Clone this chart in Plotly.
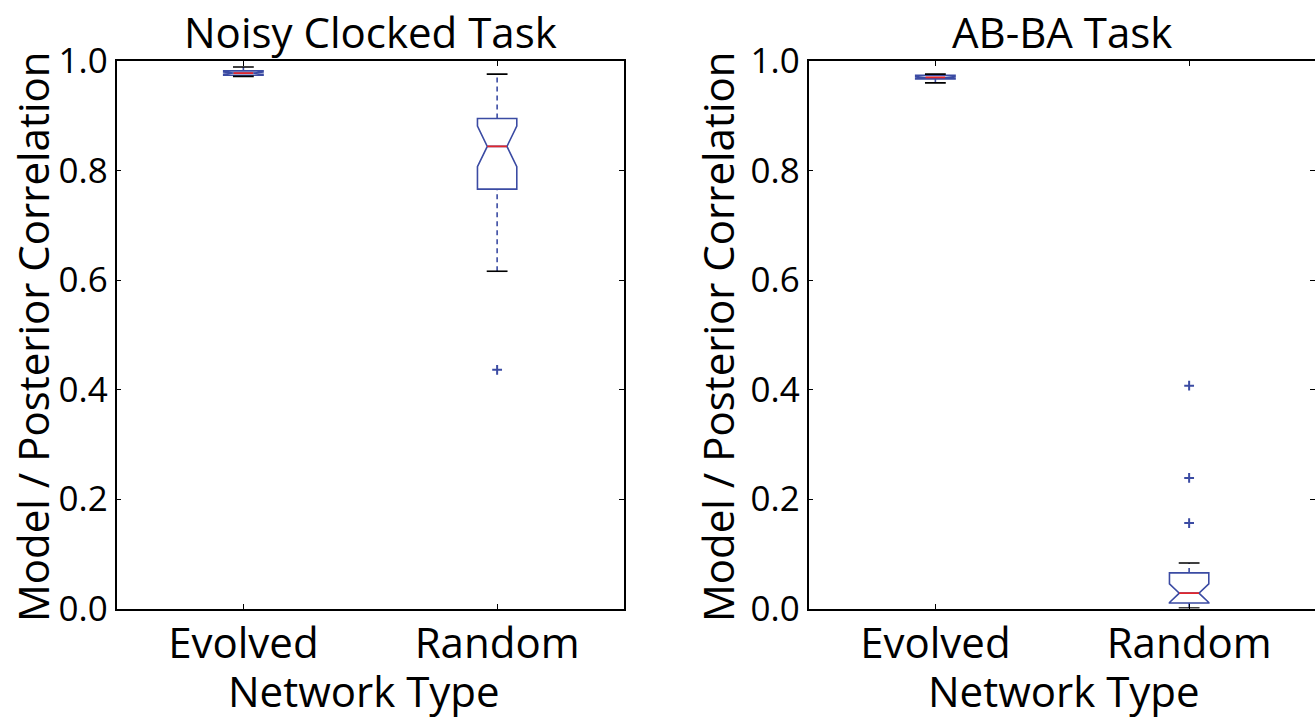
import plotly.graph_objects as go

# ---------------- data ----------------
categories = ["Evolved", "Random"]
positions = [1, 2]
y_ticks = [0.0, 0.2, 0.4, 0.6, 0.8, 1.0]
y_ticktext = ["0.0", "0.2", "0.4", "0.6", "0.8", "1.0"]

# Noisy Clocked Task
noisy_q1 = [0.974, 0.766]
noisy_median = [0.978, 0.844]
noisy_q3 = [0.982, 0.895]
noisy_lower = [0.972, 0.616]
noisy_upper = [0.989, 0.976]
noisy_notch = [0.002, 0.037]
noisy_outlier_x = [2]
noisy_outlier_y = [0.436]

# AB-BA Task
abba_q1 = [0.967, 0.010]
abba_median = [0.970, 0.028]
abba_q3 = [0.974, 0.065]
abba_lower = [0.960, 0.001]
abba_upper = [0.976, 0.083]
abba_notch = [0.0015, 0.017]
abba_outlier_x = [2, 2, 2]
abba_outlier_y = [0.407, 0.2385, 0.156]

titles = ["Noisy Clocked Task", "AB-BA Task"]
x_title = "Network Type"
y_title = "Model / Posterior Correlation"

# ---------------- style ----------------
BLUE = "#3b4ba3"
RED = "#e3262b"
FONT = "Open Sans"
BOX_W = 0.155
NOTCH_W = 0.25          # plotly: narrowest part = box width * (1 - 2*notchwidth)
CAP_HALF = 0.041
W, H = 1315, 720

fig = go.Figure()


def add_panel(xa, ya, q1, med, q3, lo, hi, notch, ox, oy):
    fig.add_trace(go.Box(
        x=positions, q1=q1, median=med, q3=q3,
        lowerfence=q1, upperfence=q3, notchspan=notch,
        notched=True, notchwidth=NOTCH_W, width=BOX_W, whiskerwidth=0,
        line=dict(color=BLUE, width=1.6), fillcolor="rgba(0,0,0,0)",
        boxpoints=False, xaxis=xa, yaxis=ya, showlegend=False, hoverinfo="skip"))
    # dashed whiskers
    wx, wy = [], []
    for p, a, b, c, d in zip(positions, lo, q1, q3, hi):
        wx += [p, p, None, p, p, None]
        wy += [a, b, None, c, d, None]
    fig.add_trace(go.Scatter(x=wx, y=wy, mode="lines", xaxis=xa, yaxis=ya,
                             line=dict(color=BLUE, width=1.6, dash="5px,4px"),
                             showlegend=False, hoverinfo="skip"))
    # black caps
    cx, cy = [], []
    for p, a, d in zip(positions, lo, hi):
        cx += [p - CAP_HALF, p + CAP_HALF, None, p - CAP_HALF, p + CAP_HALF, None]
        cy += [a, a, None, d, d, None]
    fig.add_trace(go.Scatter(x=cx, y=cy, mode="lines", xaxis=xa, yaxis=ya,
                             line=dict(color="black", width=1.6),
                             showlegend=False, hoverinfo="skip"))
    # red medians (span the notch waist)
    half = BOX_W / 2 * (1 - 2 * NOTCH_W)
    mx, my = [], []
    for p, m in zip(positions, med):
        mx += [p - half, p + half, None]
        my += [m, m, None]
    fig.add_trace(go.Scatter(x=mx, y=my, mode="lines", xaxis=xa, yaxis=ya,
                             line=dict(color=RED, width=1.8),
                             showlegend=False, hoverinfo="skip"))
    # outliers
    fig.add_trace(go.Scatter(x=ox, y=oy, mode="markers", xaxis=xa, yaxis=ya,
                             marker=dict(symbol="cross-thin", size=7,
                                         line=dict(color=BLUE, width=2)),
                             showlegend=False, hoverinfo="skip"))


add_panel("x", "y", noisy_q1, noisy_median, noisy_q3, noisy_lower, noisy_upper,
          noisy_notch, noisy_outlier_x, noisy_outlier_y)
add_panel("x2", "y2", abba_q1, abba_median, abba_q3, abba_lower, abba_upper,
          abba_notch, abba_outlier_x, abba_outlier_y)
# invisible trace so the right-side tick axis of the second panel is drawn
fig.add_trace(go.Scatter(x=[1], y=[0.5], xaxis="x2", yaxis="y3", mode="markers",
                         marker=dict(opacity=0), showlegend=False, hoverinfo="skip"))

# pixel geometry (page px, body margin removed) -> paper fractions
L1, R1 = 116.5, 624.0
spacing = (R1 - L1) / 2.0
L2 = 808.5
R2 = float(W)                       # the right panel runs off the page edge
x2_end = 0.5 + (R2 - L2) / spacing
TOP, BOT = 61.0, 608.5

common_x = dict(tickvals=positions, ticktext=categories, ticks="inside", ticklen=5,
                tickcolor="black", tickwidth=1.2, showline=True, linecolor="black",
                linewidth=1.6, showgrid=False, zeroline=False, automargin=False,
                ticklabelstandoff=-3,
                tickfont=dict(family=FONT, size=42, color="black"))
common_y = dict(range=[0, 1], tickvals=y_ticks, ticktext=y_ticktext, ticks="inside",
                ticklen=5, tickcolor="black", tickwidth=1.2, showgrid=False,
                zeroline=False, automargin=False,
                tickfont=dict(family=FONT, size=35, color="black"))

fig.update_layout(
    width=W, height=H, margin=dict(l=0, r=0, t=0, b=0, pad=0),
    paper_bgcolor="white", plot_bgcolor="white",
    xaxis=dict(domain=[L1 / W, R1 / W], range=[0.5, 2.5], anchor="y",
               mirror="ticks", **common_x),
    yaxis=dict(domain=[1 - BOT / H, 1 - TOP / H], anchor="x", showline=True,
               linecolor="black", linewidth=1.6, mirror="ticks", **common_y),
    xaxis2=dict(domain=[L2 / W, R2 / W], range=[0.5, x2_end], anchor="y2",
                mirror="ticks", **common_x),
    yaxis2=dict(domain=[1 - BOT / H, 1 - TOP / H], anchor="x2", showline=True,
                linecolor="black", linewidth=1.6, mirror=False, **common_y),
    yaxis3=dict(overlaying="y2", side="right", anchor="x2", showline=False,
                showticklabels=False, **{k: v for k, v in common_y.items()
                                         if k != "tickfont"}),
)

ann_font = dict(family=FONT, size=42, color="black")
anns = []
c1 = (L1 + R1) / 2
c2 = L2 + spacing
for cx_px, title in [(c1, titles[0]), (c2, titles[1])]:
    anns.append(dict(text=title, x=cx_px / W, y=1 - 32 / H, xref="paper", yref="paper",
                     xanchor="center", yanchor="middle", showarrow=False, font=ann_font))
for cx_px in [c1 - 6, c2 + 2]:
    anns.append(dict(text=x_title, x=cx_px / W, y=1 - 690 / H, xref="paper", yref="paper",
                     xanchor="center", yanchor="middle", showarrow=False, font=ann_font))
for cx_px in [32, 717]:
    anns.append(dict(text=y_title, x=cx_px / W, y=1 - 337 / H, xref="paper", yref="paper",
                     xanchor="center", yanchor="middle", textangle=-90, showarrow=False,
                     font=ann_font))
fig.update_layout(annotations=anns)

fig.write_html("out.html", config={"displayModeBar": False},
               post_script="document.body.style.margin='0px';")
